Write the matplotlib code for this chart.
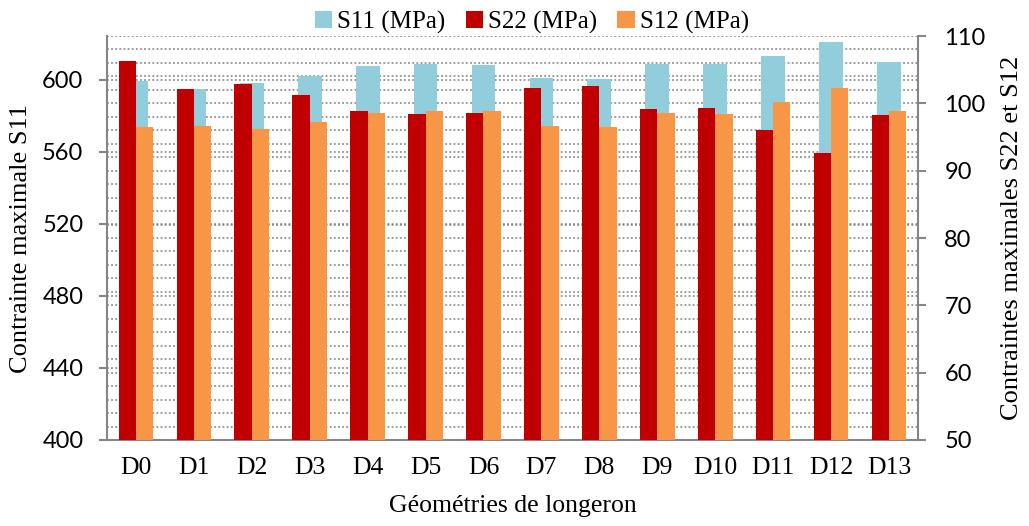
import numpy as np
import matplotlib
matplotlib.use("Agg")
from matplotlib import pyplot as plt

# data
categories = ["D0", "D1", "D2", "D3", "D4", "D5", "D6", "D7", "D8", "D9", "D10", "D11", "D12", "D13"]
s11 = [599.4, 594.8, 598.3, 602.4, 607.8, 608.9, 608.3, 601.1, 600.7, 609.1, 609.1, 613.5, 620.9, 610.2]
s22 = [106.3, 102.2, 102.9, 101.2, 98.8, 98.4, 98.6, 102.3, 102.6, 99.1, 99.3, 96.0, 92.6, 98.2]
s12 = [96.5, 96.6, 96.2, 97.3, 98.6, 98.9, 98.8, 96.6, 96.5, 98.5, 98.4, 100.2, 102.3, 98.9]

left_ticks = [400, 440, 480, 520, 560, 600]
right_ticks = [50, 60, 70, 80, 90, 100, 110]

c_blue = "#92CDDC"
c_red = "#C00000"
c_orange = "#F79646"
c_axis = "#868686"

serif = "Liberation Serif"
sans = "Lato"

fig = plt.figure(figsize=(10.29, 5.26), dpi=100)
rect = [0.104, 0.1635, 0.788, 0.768]

# background axis only used for the dotted grid of the secondary scale
ax0 = fig.add_axes(rect, zorder=0)
ax1 = fig.add_axes(rect, zorder=1, sharex=ax0)
ax2 = fig.add_axes(rect, zorder=2, sharex=ax0)
ax1.patch.set_visible(False)
ax2.patch.set_visible(False)

x = np.arange(len(categories))

ax1.bar(x, s11, width=0.41, color=c_blue, label="S11 (MPa)", zorder=3)
ax2.bar(x - 0.15, s22, width=0.30, color=c_red, label="S22 (MPa)")
ax2.bar(x + 0.15, s12, width=0.30, color=c_orange, label="S12 (MPa)")

ax1.set_ylim(400, 624.4)
ax2.set_ylim(50, 110)
ax0.set_ylim(50, 110)
ax0.set_xlim(-0.5, len(categories) - 0.5)

# grid
ax0.set_yticks(np.arange(50, 111, 2))
ax0.yaxis.grid(True, linestyle=(0, (1.2, 1.5)), color="#7f7f7f", linewidth=1.1)
ax0.tick_params(left=False, labelleft=False, bottom=False, labelbottom=False)
for s in ax0.spines.values():
    s.set_visible(False)

ax1.set_yticks(left_ticks)
ax1.yaxis.grid(True, linestyle=(0, (1.2, 1.5)), color="#7f7f7f", linewidth=1.1)
ax1.set_axisbelow(True)
ax2.set_yticks(right_ticks)

for s in ["top", "right"]:
    ax1.spines[s].set_visible(False)
for s in ["top", "left", "bottom"]:
    ax2.spines[s].set_visible(False)
ax1.spines["left"].set_color(c_axis)
ax1.spines["bottom"].set_color(c_axis)
ax1.spines["left"].set_linewidth(1.5)
ax1.spines["bottom"].set_linewidth(1.5)
ax2.spines["right"].set_color(c_axis)
ax2.spines["right"].set_linewidth(1.5)

ax2.yaxis.tick_right()
ax2.yaxis.set_label_position("right")

ax1.tick_params(axis="y", length=6, width=1.5, color=c_axis, labelsize=17, pad=11)
ax2.tick_params(axis="y", length=6, width=1.5, color=c_axis, labelsize=17, pad=13, left=False, labelleft=False)
ax1.tick_params(axis="x", length=0, pad=12)
ax2.tick_params(axis="x", bottom=False, labelbottom=False)
for lab in ax1.get_yticklabels() + ax2.get_yticklabels():
    lab.set_fontfamily(sans)

ax1.set_xticks(x)
ax1.set_xticklabels(categories, fontfamily=serif, fontsize=18.5)

ax1.set_xlabel("Géométries de longeron", fontfamily=serif, fontsize=18.5, labelpad=12)
ax1.set_ylabel("Contrainte maximale S11", fontfamily=serif, fontsize=19, labelpad=7)
ax2.set_ylabel("Contraintes maximales S22 et S12", fontfamily=serif, fontsize=19, labelpad=11)

handles = ax1.get_legend_handles_labels()[0] + ax2.get_legend_handles_labels()[0]
labels = ax1.get_legend_handles_labels()[1] + ax2.get_legend_handles_labels()[1]
fig.legend(handles, labels, loc="center", bbox_to_anchor=(0.517, 0.958), ncol=3, frameon=False,
           prop={"family": serif, "size": 18}, handlelength=0.7, handleheight=0.7,
           handletextpad=0.2, columnspacing=0.8, borderaxespad=0)

fig.savefig("out.png", dpi=100)
